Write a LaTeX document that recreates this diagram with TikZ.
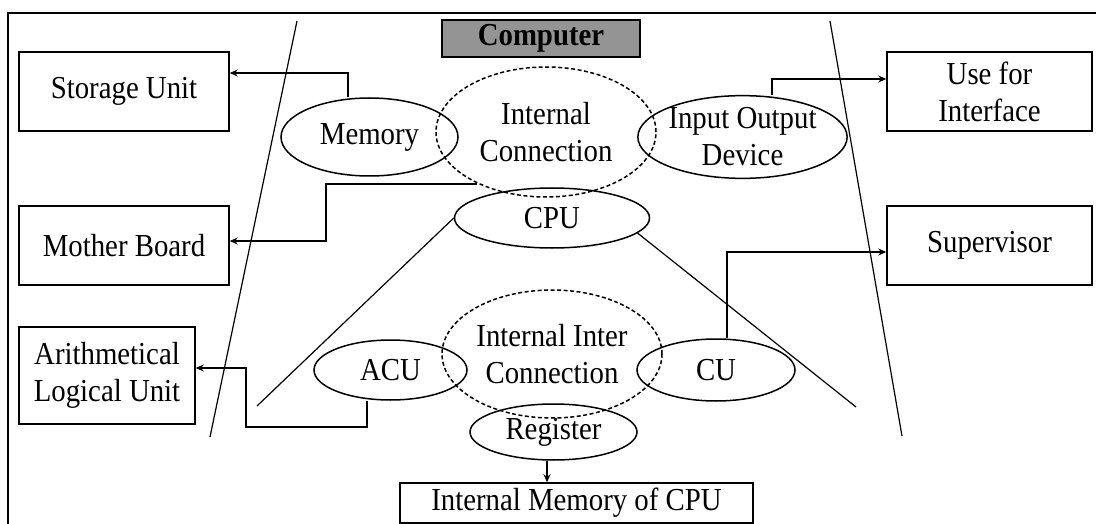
\documentclass[tikz,border=0pt]{standalone}
\usepackage{fontspec}
\setmainfont{Liberation Serif}[FakeStretch=0.9]
\usetikzlibrary{shapes.geometric,arrows.meta,calc}
\begin{document}
\begin{tikzpicture}[x=1pt,y=-1pt,
  font=\fontsize{32}{37}\selectfont,
  box/.style={draw,line width=1.5pt,rectangle,inner sep=0pt,align=center},
  ell/.style={draw,line width=1.5pt,ellipse,inner sep=0pt,align=center},
  dell/.style={ell,dash pattern=on 4pt off 2.5pt},
  arr/.style={line width=1.8pt,-{Stealth[length=8pt,width=7pt]}},
  guide/.style={line width=1.2pt},
  frameline/.style={line width=1.5pt}]
\useasboundingbox (0,0) rectangle (1096,524);
% outer frame (cut off at right and bottom)
\draw[frameline] (1110,13) -- (8,13) -- (8,540);
% title
\node[box,fill=black!42,minimum width=198pt,minimum height=37pt,font=\fontsize{32}{37}\selectfont\bfseries] (comp) at (541,38.5) {Computer};
% boxes
\node[box,minimum width=210pt,minimum height=79pt] (sto) at (124,91.5) {Storage Unit};
\node[box,minimum width=210pt,minimum height=79pt] (mb) at (124,245.5) {Mother Board};
\node[box,minimum width=176pt,minimum height=97pt] (alu) at (107,375.5) {Arithmetical\\Logical Unit};
\node[box,minimum width=205pt,minimum height=79pt] (ufi) at (989.5,91.5) {Use for\\Interface};
\node[box,minimum width=205pt,minimum height=79pt] (sup) at (989.5,245.5) {Supervisor};
\node[box,minimum width=353pt,minimum height=40pt] (imc) at (576.5,503) {Internal Memory of CPU};
% ellipses
\node[dell,minimum width=220pt,minimum height=130pt] (ic) at (546,132) {Internal\\Connection};
\node[ell,minimum width=177pt,minimum height=78pt] (mem) at (369.5,137) {Memory};
\node[ell,minimum width=195pt,minimum height=78pt] (io) at (742.5,137) {Input Output\\Device};
\node[ell,minimum width=195pt,minimum height=60pt] (cpu) at (552,218) {CPU};
\node[dell,minimum width=220pt,minimum height=128pt] (iic) at (552,354) {Internal Inter\\Connection};
\node[ell,minimum width=153pt,minimum height=60pt] (acu) at (390.5,370) {ACU};
\node[ell,minimum width=158pt,minimum height=62pt] (cu) at (716,370) {CU};
\node[ell,minimum width=167pt,minimum height=56pt] (reg) at (553.5,432) {Register};
% guide lines
\coordinate (lt) at (297,21);
\coordinate (lb) at (210,437);
\coordinate (rt) at (830,21);
\coordinate (rb) at (902,436);
\coordinate (cl) at (257,406);
\coordinate (cr) at (856,407);
\draw[guide] (lt) -- (lb);
\draw[guide] (rt) -- (rb);
\draw[guide] (cpu.west) -- (cl);
\draw[guide] (cpu.-10) -- (cr);
% connectors
\draw[arr] ([xshift=-21.5pt]mem.north) |- (sto.east |- 0,73);
\draw[arr] (ic.217) -| (326,241) -- (mb.east |- 0,241);
\draw[arr] ([xshift=29.5pt]io.north) |- (ufi.west |- 0,79);
\draw[arr] ([xshift=11pt]cu.north) |- (sup.west |- 0,252);
\draw[arr] ([xshift=-23.5pt]acu.south) |- (246,427) |- (alu.east |- 0,368);
\draw[arr] ([xshift=-6.5pt]reg.south) -- ([xshift=-6.5pt]reg.south |- imc.north);
\end{tikzpicture}
\end{document}
